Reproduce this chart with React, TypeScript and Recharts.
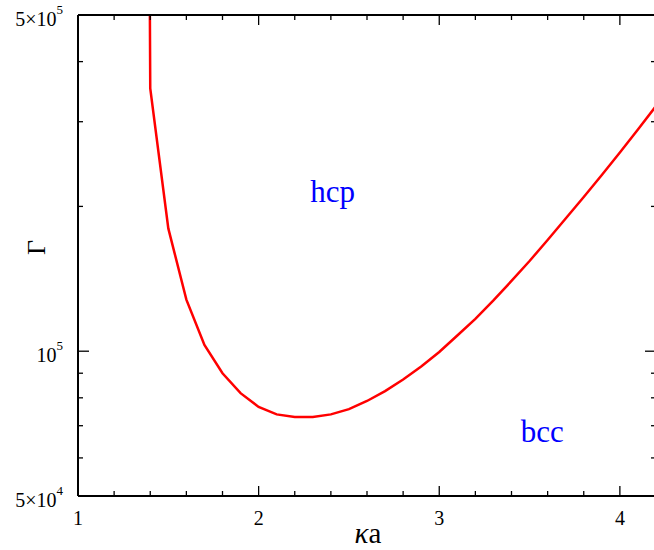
import React from 'react';
import { LineChart, Line, XAxis, YAxis, ReferenceDot } from 'recharts';

// phase boundary between hcp and bcc
const kappaA = [1.39, 1.4, 1.5, 1.6, 1.7, 1.8, 1.9, 2.0, 2.1, 2.2, 2.3, 2.4, 2.5, 2.6, 2.7, 2.8, 2.9, 3.0, 3.1, 3.2, 3.3, 3.4, 3.5, 3.6, 3.7, 3.8, 3.9, 4.0, 4.1, 4.2];
const gamma = [2000000, 352000, 180000, 128000, 103000, 90000, 81800, 76600, 73900, 73000, 73000, 73900, 75800, 78800, 82600, 87300, 92900, 99600, 107800, 116700, 127500, 140000, 154000, 170300, 188800, 209200, 232500, 258900, 289100, 323400];

const xTicks = [1, 1.2, 1.4, 1.6, 1.8, 2, 2.2, 2.4, 2.6, 2.8, 3, 3.2, 3.4, 3.6, 3.8, 4, 4.2];
const yTicks = [50000, 60000, 70000, 80000, 90000, 100000, 200000, 300000, 400000, 500000];
const yTickLabels: Record<number, [string, string]> = {
  50000: ['5×10', '4'],
  100000: ['10', '5'],
  500000: ['5×10', '5'],
};

// phase names, anchored at their text baseline
const phaseLabels = [
  { name: 'hcp', x: 2.41, y: 204000 },
  { name: 'bcc', x: 3.57, y: 64800 },
];

const data = kappaA.map((k, i) => ({ k, g: gamma[i] }));

const FONT = '"Liberation Serif", "DejaVu Serif", serif';

const XTick = (props: any) => {
  const { x, y, payload, top } = props;
  const v = payload.value;
  const major = Math.abs(v - Math.round(v)) < 1e-6;
  const len = major ? 10 : 5;
  const dir = top ? 1 : -1;
  return (
    <g>
      <line x1={x} y1={y} x2={x} y2={y + dir * len} stroke="#000" strokeWidth={1.3} />
      {!top && major && (
        <text x={x} y={y + 29} textAnchor="middle" fontSize={20} fontFamily={FONT} fill="#000">
          {v}
        </text>
      )}
    </g>
  );
};

const YTick = (props: any) => {
  const { x, y, payload, right } = props;
  const v = payload.value;
  const major = v === 100000;
  const len = major ? 11 : 5;
  const dir = right ? -1 : 1;
  const lab = yTickLabels[v];
  return (
    <g>
      <line x1={x} y1={y} x2={x + dir * len} y2={y} stroke="#000" strokeWidth={1.3} />
      {!right && lab && (
        <text x={x - 15} y={y + 11} textAnchor="end" fontSize={20} fontFamily={FONT} fill="#000">
          {lab[0]}
          <tspan dy={-12} fontSize={13}>{lab[1]}</tspan>
        </text>
      )}
    </g>
  );
};

const App: React.FC = () => {
  return (
    <div style={{ position: 'absolute', left: 0, top: 0, width: 654, height: 550, overflow: 'hidden', background: '#fff' }}>
      <LineChart width={660} height={550} data={data} margin={{ top: 14, right: 3, bottom: 53, left: 77 }}>
        <XAxis
          dataKey="k"
          type="number"
          domain={[1, 4.2]}
          ticks={xTicks}
          interval={0}
          height={1}
          tickSize={0}
          tickMargin={0}
          axisLine={{ stroke: '#000', strokeWidth: 2 }}
          tickLine={false}
          tick={(p: any) => <XTick {...p} />}
          label={(p: any) => {
            const vb = p.viewBox;
            return (
              <text x={vb.x + vb.width / 2 + 1} y={vb.y + 47} textAnchor="middle" fontSize={29} fontFamily={FONT} fill="#000">
                <tspan fontStyle="italic">κ</tspan>a
              </text>
            );
          }}
        />
        <XAxis
          xAxisId="top"
          orientation="top"
          dataKey="k"
          type="number"
          domain={[1, 4.2]}
          ticks={xTicks}
          interval={0}
          height={1}
          tickSize={0}
          tickMargin={0}
          axisLine={{ stroke: '#000', strokeWidth: 2 }}
          tickLine={false}
          tick={(p: any) => <XTick {...p} top />}
        />
        <YAxis
          scale="log"
          type="number"
          domain={[50000, 500000]}
          allowDataOverflow
          ticks={yTicks}
          interval={0}
          width={1}
          tickSize={0}
          tickMargin={0}
          axisLine={{ stroke: '#000', strokeWidth: 2 }}
          tickLine={false}
          tick={(p: any) => <YTick {...p} />}
          label={(p: any) => {
            const vb = p.viewBox;
            const cy = vb.y + vb.height / 2 - 8;
            return (
              <text x={45} y={cy} transform={`rotate(-90 45 ${cy})`} textAnchor="middle" fontSize={26} fontFamily={FONT} fill="#000">
                Γ
              </text>
            );
          }}
        />
        <YAxis
          yAxisId="right"
          orientation="right"
          scale="log"
          type="number"
          domain={[50000, 500000]}
          allowDataOverflow
          ticks={yTicks}
          interval={0}
          width={1}
          tickSize={0}
          tickMargin={0}
          axisLine={{ stroke: '#000', strokeWidth: 2 }}
          tickLine={false}
          tick={(p: any) => <YTick {...p} right />}
        />
        <Line
          type="linear"
          dataKey="g"
          stroke="#ff0000"
          strokeWidth={2.5}
          dot={false}
          activeDot={false}
          isAnimationActive={false}
        />
        {phaseLabels.map((l) => (
          <ReferenceDot
            key={l.name}
            x={l.x}
            y={l.y}
            r={0}
            shape={(p: any) => (
              <text x={p.cx} y={p.cy} textAnchor="middle" fontSize={31} fontFamily={FONT} fill="#0000ff">
                {l.name}
              </text>
            )}
          />
        ))}
      </LineChart>
    </div>
  );
};

export default App;
